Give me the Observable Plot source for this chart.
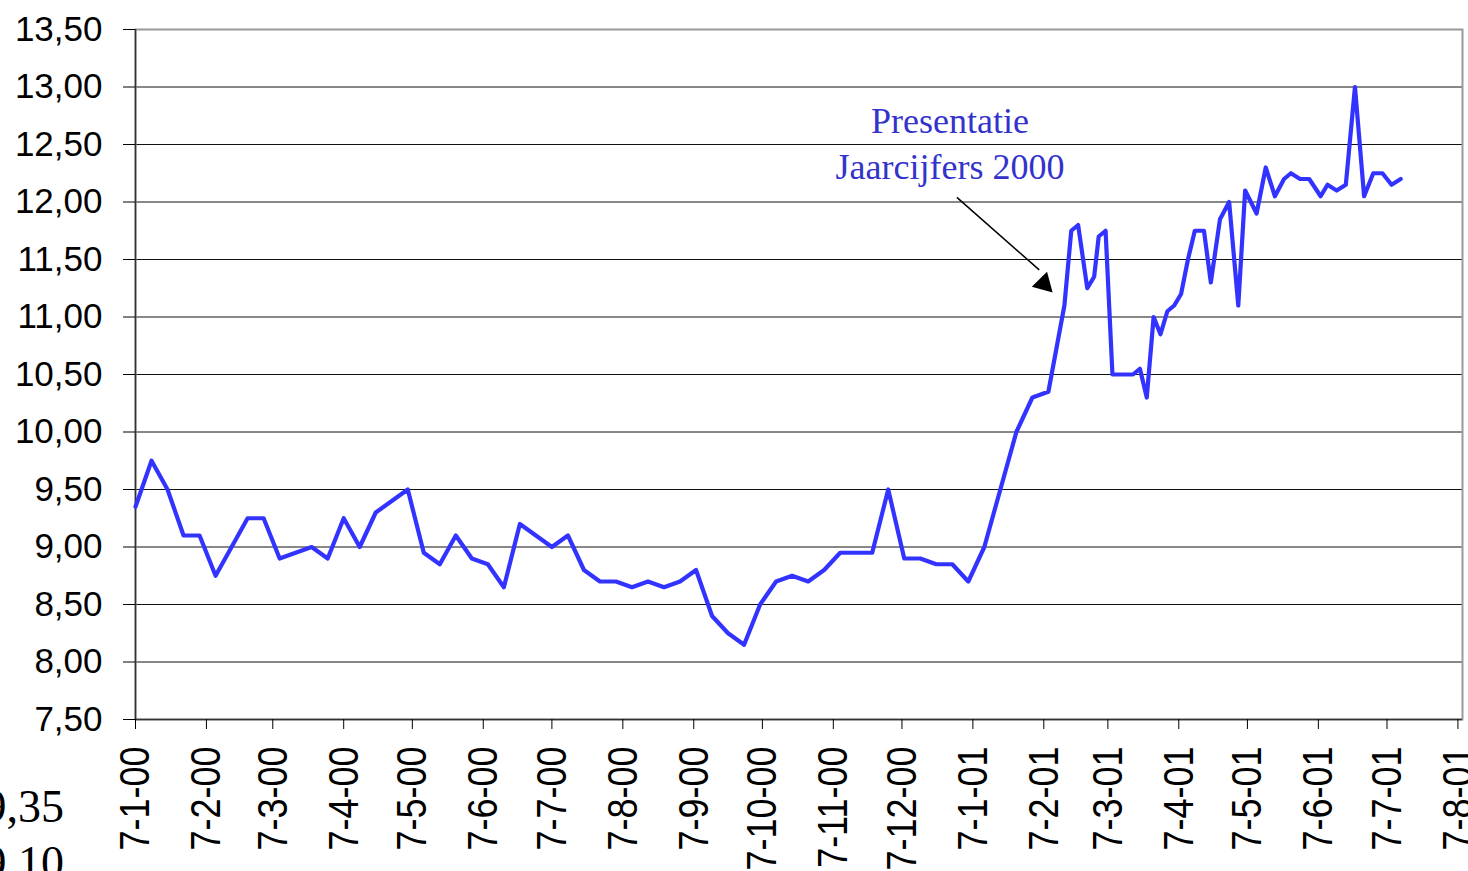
<!DOCTYPE html>
<html>
<head>
<meta charset="utf-8">
<script src="https://cdn.jsdelivr.net/npm/d3@7"></script>
<script src="https://cdn.jsdelivr.net/npm/@observablehq/plot@0.6"></script>
<style>
html, body { margin: 0; padding: 0; background: #fff; overflow: hidden; }
#wrap { position: relative; width: 1468px; height: 871px; overflow: hidden; }
.frag { position: absolute; left: -100px; width: 164px; top: 779px; text-align: right;
  font-family: "Liberation Serif", "Times New Roman", serif; font-size: 46px; line-height: 56px; color: #000; }
</style>
</head>
<body>
<div id="wrap">
  <div id="chart"></div>
  <div class="frag" id="frag"></div>
</div>
<script>
// ---- data ----
const dates = [
  "2000-01-07","2000-01-14","2000-01-21","2000-01-28",
  "2000-02-04","2000-02-11","2000-02-18","2000-02-25",
  "2000-03-03","2000-03-10","2000-03-17","2000-03-24","2000-03-31",
  "2000-04-07","2000-04-14","2000-04-21","2000-04-28",
  "2000-05-05","2000-05-12","2000-05-19","2000-05-26",
  "2000-06-02","2000-06-09","2000-06-16","2000-06-23","2000-06-30",
  "2000-07-07","2000-07-14","2000-07-21","2000-07-28",
  "2000-08-04","2000-08-11","2000-08-18","2000-08-25",
  "2000-09-01","2000-09-08","2000-09-15","2000-09-22","2000-09-29",
  "2000-10-06","2000-10-13","2000-10-20","2000-10-27",
  "2000-11-03","2000-11-10","2000-11-17","2000-11-24",
  "2000-12-01","2000-12-08","2000-12-15","2000-12-22","2000-12-29",
  "2001-01-05","2001-01-12","2001-01-19","2001-01-26",
  "2001-02-02","2001-02-09",
  "2001-02-16","2001-02-19","2001-02-22","2001-02-26","2001-03-01","2001-03-03",
  "2001-03-06","2001-03-09","2001-03-12","2001-03-15","2001-03-18","2001-03-21",
  "2001-03-24","2001-03-27","2001-03-30","2001-04-02","2001-04-05","2001-04-08",
  "2001-04-11","2001-04-14","2001-04-18","2001-04-21","2001-04-25","2001-04-29",
  "2001-05-03","2001-05-06","2001-05-11","2001-05-15","2001-05-19","2001-05-23",
  "2001-05-26","2001-05-30","2001-06-03","2001-06-08","2001-06-11","2001-06-15",
  "2001-06-19","2001-06-23","2001-06-27","2001-07-01","2001-07-05","2001-07-09",
  "2001-07-13"
];
const prices = [
  9.35, 9.75, 9.50, 9.10,
  9.10, 8.75, 9.00, 9.25,
  9.25, 8.90, 8.95, 9.00, 8.90,
  9.25, 9.00, 9.30, 9.40,
  9.50, 8.95, 8.85, 9.10,
  8.90, 8.85, 8.65, 9.20, 9.10,
  9.00, 9.10, 8.80, 8.70,
  8.70, 8.65, 8.70, 8.65,
  8.70, 8.80, 8.40, 8.25, 8.15,
  8.50, 8.70, 8.75, 8.70,
  8.80, 8.95, 8.95, 8.95,
  9.50, 8.90, 8.90, 8.85, 8.85,
  8.70, 9.00, 9.50, 10.00,
  10.30, 10.35,
  11.10, 11.75, 11.80, 11.25, 11.35, 11.70,
  11.75, 10.50, 10.50, 10.50, 10.50, 10.55,
  10.30, 11.00, 10.85, 11.05, 11.10, 11.20,
  11.50, 11.75, 11.75, 11.30, 11.85, 12.00,
  11.10, 12.10, 11.90, 12.30, 12.05, 12.20,
  12.25, 12.20, 12.20, 12.05, 12.15, 12.10,
  12.15, 13.00, 12.05, 12.25, 12.25, 12.15,
  12.20
];
const tickDates = [
  "2000-01-07","2000-02-07","2000-03-07","2000-04-07","2000-05-07","2000-06-07",
  "2000-07-07","2000-08-07","2000-09-07","2000-10-07","2000-11-07","2000-12-07",
  "2001-01-07","2001-02-07","2001-03-07","2001-04-07","2001-05-07","2001-06-07",
  "2001-07-07","2001-08-07"
];
const yTicks = [7.5, 8, 8.5, 9, 9.5, 10, 10.5, 11, 11.5, 12, 12.5, 13, 13.5];
const xDomain = ["2000-01-07", "2001-08-09"];
const annotationText = "Presentatie\nJaarcijfers 2000";
const annotationAt = {date: "2000-12-28", value: 12.53};
const arrowFrom = {date: "2000-12-31", value: 12.04};
const arrowTo = {date: "2001-02-05", value: 11.41};
const arrowHead = {date: "2001-02-07", value: 11.29};
const fragmentLines = ["9,35", "9,10"];

// ---- build ----
const parse = s => new Date(s + "T00:00:00Z");
const data = dates.map((d, i) => ({date: parse(d), price: prices[i]}));
const fmtX = d => `${d.getUTCDate()}-${d.getUTCMonth() + 1}-${String(d.getUTCFullYear()).slice(2)}`;
const fmtY = v => v.toFixed(2).replace(".", ",");

const chart = Plot.plot({
  width: 1468,
  height: 871,
  marginLeft: 135,
  marginRight: 6,
  marginTop: 29,
  marginBottom: 152,
  style: {fontFamily: "'Liberation Sans', Arial, sans-serif", background: "#fff", color: "#000"},
  x: {type: "utc", domain: xDomain.map(parse)},
  y: {domain: [7.5, 13.5]},
  marks: [
    Plot.ruleY(yTicks.filter(v => v > 7.5 && v < 13.5), {stroke: "#111", strokeWidth: 1}),
    Plot.frame({stroke: "#999", strokeWidth: 2}),
    Plot.ruleX([parse(xDomain[0])], {stroke: "#333", strokeWidth: 1.5}),
    Plot.ruleY([7.5], {stroke: "#333", strokeWidth: 1.5}),
    Plot.axisY({ticks: yTicks, tickFormat: fmtY, tickSize: 12, tickPadding: 21, fontSize: 35, label: null, dy: 0}),
    Plot.axisX({ticks: tickDates.map(parse), tickFormat: fmtX, tickRotate: -90, tickSize: 10, tickPadding: 17, fontSize: 36, label: null}),
    Plot.line(data, {x: "date", y: "price", stroke: "#3333FF", strokeWidth: 4.2, strokeLinejoin: "round"}),
    Plot.text([annotationAt], {x: d => parse(d.date), y: "value", text: () => annotationText,
      fill: "#3333CC", fontSize: 36, fontFamily: "'Liberation Serif', 'Times New Roman', serif",
      lineHeight: 1.28, textAnchor: "middle"}),
    Plot.link([{a: arrowFrom, b: arrowTo}], {x1: d => parse(d.a.date), y1: d => d.a.value,
      x2: d => parse(d.b.date), y2: d => d.b.value, stroke: "#000", strokeWidth: 1.5}),
    Plot.dot([arrowHead], {x: d => parse(d.date), y: "value", symbol: "triangle", r: 8, rotate: 135, fill: "#000", stroke: "none"})
  ]
});
// stretch rotated x tick labels to match the reference proportions
chart.querySelectorAll('[aria-label="x-axis tick label"] text').forEach(t => {
  const tr = t.getAttribute("transform") || "";
  t.setAttribute("transform", tr + " scale(1,1.2)");
});
document.getElementById("chart").appendChild(chart);
document.getElementById("frag").innerHTML = fragmentLines.join("<br>");
</script>
</body>
</html>
